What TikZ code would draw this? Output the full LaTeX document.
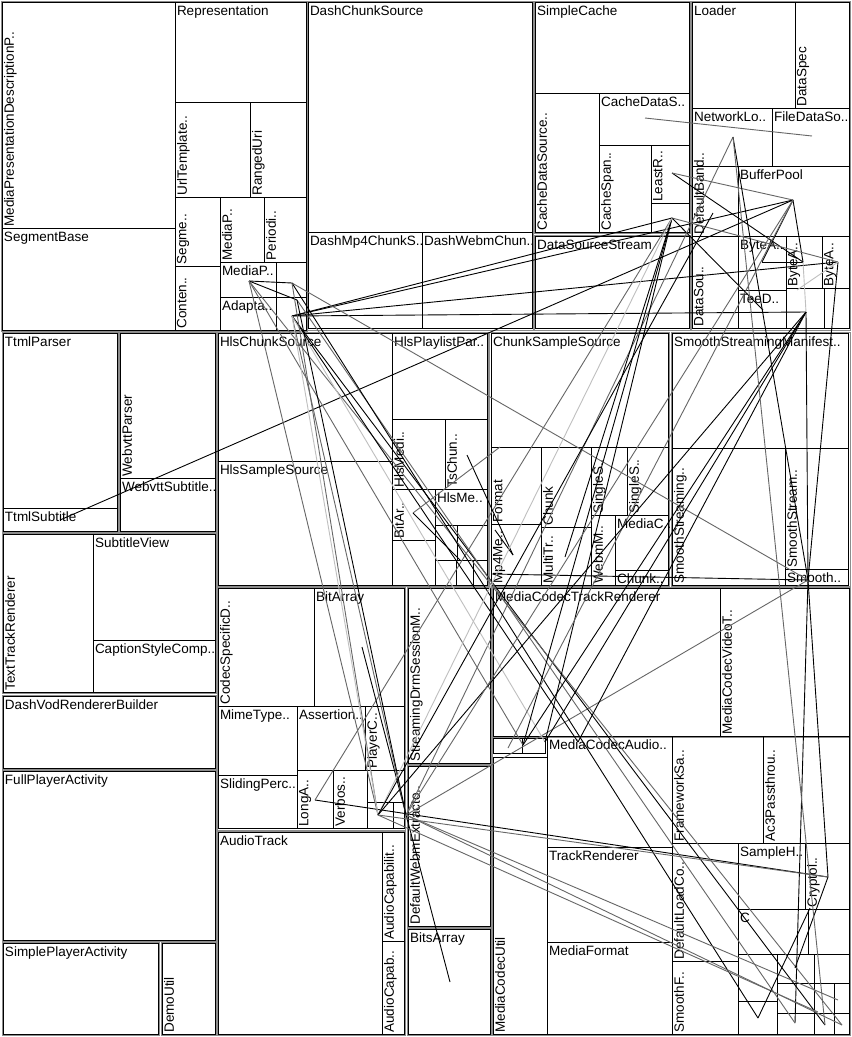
\documentclass[tikz,border=0pt]{standalone}
\usepackage{fontspec}
\setmainfont{Liberation Sans}
\begin{document}
\begin{tikzpicture}[x=1pt,y=-1pt]
\tikzset{
 box/.style={draw=black, line width=0.9pt, inner sep=0pt, outer sep=0pt, anchor=north west},
 lab/.style={inner sep=0pt, outer sep=0pt, font=\fontsize{13.5}{13.5}\selectfont, text=black},
 grp/.style={draw=black!45, line width=0.9pt},
 ln/.style={draw=black, line width=0.9pt},
 lg/.style={draw=black!60, line width=0.9pt},
 ll/.style={draw=black!25, line width=0.9pt},
}
\newcommand\mkbox[5]{\pgfmathsetmacro\bw{#4-#2}\pgfmathsetmacro\bh{#5-#3}%
 \node[box, minimum width=\bw pt, minimum height=\bh pt] (#1) at (#2,#3) {};}
\newcommand\hb[6]{\mkbox{#1}{#2}{#3}{#4}{#5}\node[lab, anchor=north west] (#1t) at ([xshift=2pt,yshift=-4pt]#1.north west) {#6};}
\newcommand\vb[6]{\mkbox{#1}{#2}{#3}{#4}{#5}\node[lab, rotate=90, anchor=north west] (#1t) at ([xshift=2pt,yshift=1.5pt]#1.south west) {#6};}
\newcommand\eb[5]{\mkbox{#1}{#2}{#3}{#4}{#5}}

\fill[white] (0,0) rectangle (852,1037);
\useasboundingbox (0,0) rectangle (852,1037);

% group frames
\draw[grp] (1,1) rectangle (307,331);
\draw[grp] (307,1) rectangle (533,330);
\draw[grp] (534,1) rectangle (690,233);
\draw[grp] (534,235) rectangle (690,330);
\draw[grp] (691,1) rectangle (850,330);
\draw[grp] (2,332) rectangle (118,532);
\draw[grp] (119,332) rectangle (216,532);
\draw[grp] (2,533) rectangle (216,693);
\draw[grp] (2,695) rectangle (216,769);
\draw[grp] (2,770) rectangle (216,941);
\draw[grp] (2,942) rectangle (159,1035);
\draw[grp] (161,942) rectangle (216,1035);
\draw[grp] (217,332) rectangle (488,586);
\draw[grp] (489,332) rectangle (669,586);
\draw[grp] (671,332) rectangle (850,586);
\draw[grp] (217,587) rectangle (405,830);
\draw[grp] (407,587) rectangle (491,764);
\draw[grp] (407,765) rectangle (491,927);
\draw[grp] (407,928) rectangle (491,1035);
\draw[grp] (217,831) rectangle (405,1035);
\draw[grp] (492,587) rectangle (850,737);
\draw[grp] (492,737) rectangle (850,1035);

% group A
\vb{mpd}{2}{2}{175}{228}{MediaPresentationDescriptionP..}
\hb{segbase}{2}{228}{175}{330}{SegmentBase}
\hb{repr}{175}{2}{306}{102}{Representation}
\vb{urlt}{175}{102}{250}{197}{UrlTemplate..}
\vb{ranged}{250}{102}{306}{197}{RangedUri}
\vb{segme}{175}{197}{220}{266}{Segme..}
\vb{conten}{175}{266}{220}{330}{Conten..}
\vb{mediapv}{220}{197}{264}{262}{MediaP..}
\vb{periodi}{264}{197}{306}{262}{Periodi..}
\hb{mediaph}{220}{262}{276}{297}{MediaP..}
\eb{smAa}{276}{262}{306}{297}
\hb{adapta}{220}{297}{276}{330}{Adapta..}
\eb{smAb}{276}{297}{306}{330}
% group B
\hb{dcs}{308}{2}{532}{232}{DashChunkSource}
\hb{dmp}{308}{232}{422}{328}{DashMp4ChunkS..}
\hb{dwc}{422}{232}{532}{328}{DashWebmChun..}
% group C
\hb{sc}{535}{2}{689}{93}{SimpleCache}
\vb{cdsv}{535}{93}{599}{232}{CacheDataSource..}
\hb{cdsh}{599}{93}{689}{145}{CacheDataS..}
\vb{cspan}{599}{145}{651}{232}{CacheSpan..}
\vb{leastr}{651}{145}{689}{203}{LeastR..}
\eb{smC}{651}{203}{689}{232}
\hb{dss}{535}{236}{689}{328}{DataSourceStream}
% group D
\hb{loader}{692}{2}{795}{108}{Loader}
\vb{dspec}{795}{2}{849}{108}{DataSpec}
\hb{netlo}{692}{108}{772}{166}{NetworkLo..}
\hb{filed}{772}{108}{849}{166}{FileDataSo..}
\vb{defb}{692}{166}{738}{236}{DefaultBand..}
\hb{bufp}{738}{166}{849}{236}{BufferPool}
\vb{dsou}{692}{236}{738}{328}{DataSou..}
\hb{byteaa}{738}{236}{786}{290}{ByteA..}
\vb{byteab}{786}{236}{822}{288}{ByteA..}
\vb{byteac}{822}{236}{849}{288}{ByteA..}
\hb{teed}{738}{290}{786}{328}{TeeD..}
\eb{smDa}{786}{288}{824}{328}
\eb{smDb}{824}{288}{849}{328}
% group E, F, left column
\hb{ttmlp}{3}{333}{117}{508}{TtmlParser}
\hb{ttmls}{3}{508}{117}{531}{TtmlSubtitle}
\vb{webvp}{120}{333}{215}{478}{WebvttParser}
\hb{webvs}{120}{478}{215}{531}{WebvttSubtitle..}
\vb{ttr}{3}{534}{93}{692}{TextTrackRenderer}
\hb{subv}{93}{534}{215}{640}{SubtitleView}
\hb{capt}{93}{640}{215}{692}{CaptionStyleComp..}
\hb{dvrb}{3}{696}{215}{768}{DashVodRendererBuilder}
\hb{fpa}{3}{771}{215}{940}{FullPlayerActivity}
\hb{spa}{3}{943}{158}{1034}{SimplePlayerActivity}
\vb{demo}{162}{943}{215}{1034}{DemoUtil}
% group G
\hb{hlscs}{218}{333}{392}{461}{HlsChunkSource}
\hb{hlsss}{218}{461}{392}{585}{HlsSampleSource}
\hb{hlspp}{392}{333}{487}{419}{HlsPlaylistPar..}
\vb{hlsmedi}{392}{419}{445}{489}{HlsMedi..}
\vb{tschun}{445}{419}{487}{489}{TsChun..}
\vb{bitar}{392}{489}{435}{540}{BitAr..}
\hb{hlsme}{435}{489}{487}{525}{HlsMe..}
\eb{smGa}{435}{525}{457}{560}
\eb{smGb}{457}{525}{487}{560}
\eb{smGc}{392}{540}{435}{585}
\eb{smGd}{435}{560}{456}{585}
\eb{smGe}{456}{560}{473}{585}
\eb{smGf}{473}{560}{487}{585}
% group H
\hb{css}{491}{333}{668}{447}{ChunkSampleSource}
\vb{fmt}{491}{447}{541}{524}{Format}
\vb{mpme}{491}{524}{541}{585}{Mp4Me..}
\vb{chunk}{541}{447}{591}{527}{Chunk}
\vb{multitr}{541}{527}{591}{585}{MultiTr..}
\vb{singa}{591}{447}{627}{515}{SingleS..}
\vb{singb}{627}{447}{668}{515}{SingleS..}
\vb{webmm}{591}{515}{615}{585}{WebmM..}
\hb{mediac}{615}{515}{668}{570}{MediaC..}
\hb{chunkd}{615}{570}{668}{585}{Chunk..}
% group I
\hb{ssm}{672}{333}{848}{448}{SmoothStreamingManifest..}
\vb{ssa}{672}{448}{785}{585}{SmoothStreaming..}
\vb{ssb}{785}{448}{848}{569}{SmoothStream..}
\hb{ssc}{785}{569}{848}{585}{Smooth..}
% group J
\vb{csd}{218}{588}{314}{706}{CodecSpecificD..}
\hb{bitarr}{314}{588}{404}{706}{BitArray}
\hb{mime}{218}{706}{297}{775}{MimeType..}
\hb{sliding}{218}{775}{297}{828}{SlidingPerc..}
\hb{assert}{297}{706}{365}{770}{Assertion..}
\vb{playerc}{365}{706}{404}{770}{PlayerC..}
\vb{longa}{297}{770}{333}{828}{LongA..}
\vb{verbos}{333}{770}{367}{828}{Verbos..}
\eb{smJa}{367}{770}{404}{802}
\eb{smJb}{367}{802}{393}{828}
\eb{smJc}{393}{802}{404}{828}
\vb{drm}{408}{588}{490}{763}{StreamingDrmSessionM..}
\vb{dwe}{408}{766}{490}{926}{DefaultWebmExtracto..}
\hb{bitsarr}{408}{929}{490}{1034}{BitsArray}
\hb{audiot}{218}{832}{382}{1034}{AudioTrack}
\vb{audca}{382}{832}{404}{941}{AudioCapabilit..}
\vb{audcb}{382}{941}{404}{1034}{AudioCapab..}
% group K
\hb{mctr}{493}{588}{720}{736}{MediaCodecTrackRenderer}
\vb{mcvt}{720}{588}{849}{736}{MediaCodecVideoT..}
\eb{smKa}{493}{738}{522}{753}
\eb{smKb}{522}{738}{545}{753}
\vb{mcu}{493}{757}{547}{1034}{MediaCodecUtil}
\hb{mca}{547}{736}{672}{847}{MediaCodecAudio..}
\vb{fws}{672}{736}{763}{843}{FrameworkSa..}
\vb{ac3}{763}{736}{849}{843}{Ac3Passthrou..}
\hb{trackr}{547}{847}{672}{942}{TrackRenderer}
\hb{mfmt}{547}{942}{672}{1034}{MediaFormat}
\vb{dlc}{672}{843}{738}{961}{DefaultLoadCo..}
\vb{smoothf}{672}{961}{738}{1034}{SmoothF..}
\hb{sampleh}{738}{843}{805}{909}{SampleH..}
\vb{cryptol}{805}{843}{849}{909}{Cryptol..}
\hb{cbox}{738}{909}{808}{954}{C}
\eb{smKc}{808}{909}{849}{954}
\eb{smKd}{738}{954}{777}{1001}
\eb{smKe}{738}{1001}{777}{1034}
\eb{smKf}{777}{954}{814}{983}
\eb{smKg}{814}{954}{849}{983}
\eb{smKh}{777}{983}{814}{1013}
\eb{smKi}{814}{983}{834}{1013}
\eb{smKj}{834}{983}{849}{1013}
\eb{smKk}{777}{1013}{814}{1034}
\eb{smKl}{814}{1013}{834}{1034}
\eb{smKm}{834}{1013}{849}{1034}

% connector end points
\coordinate (hA) at (292,316);
\coordinate (hB) at (249,281);
\coordinate (hC) at (292,283);
\coordinate (hD) at (297,300);
\coordinate (hE) at (672,218);
\coordinate (hF) at (672,173);
\coordinate (hG) at (793,200);
\coordinate (hH) at (803,262);
\coordinate (hI) at (838,262);
\coordinate (hJ) at (806,312);
\coordinate (hK) at (733,137);
\coordinate (hL) at (762,262);
\coordinate (hM) at (808,580);
\coordinate (hMl) at (492,574);
\coordinate (hN) at (378,815);
\coordinate (hO) at (406,815);
\coordinate (hP) at (315,800);
\coordinate (hQ) at (362,647);
\coordinate (hR) at (828,877);
\coordinate (hSa) at (842,1025);
\coordinate (hSb) at (825,1025);
\coordinate (hSc) at (795,1023);
\coordinate (hSd) at (758,1018);
\coordinate (hSe) at (818,1012);
\coordinate (hSf) at (838,1000);
\coordinate (hT) at (523,745);
\coordinate (hU) at (545,742);
\coordinate (hV) at (508,748);
\coordinate (hVb) at (578,742);
\coordinate (hW) at (60,520);
\coordinate (hX) at (467,455);
\coordinate (hY) at (513,555);
\coordinate (hZ) at (565,557);
\coordinate (hMa) at (495,530);
\coordinate (hCa) at (645,118);
\coordinate (hCb) at (812,136);
\coordinate (hBa) at (450,982);
\coordinate (hTe) at (763,310);
\coordinate (hBy) at (797,290);
\coordinate (hDb) at (713,213);
\coordinate (hCr) at (795,968);
\coordinate (hSh) at (810,908);
\coordinate (hGa) at (413,513);
\coordinate (hGb) at (460,560);
\coordinate (hGc) at (500,447);

% connectors
\draw[ln] (hW) -- (hG);
\draw[ln] (hA) -- (hG);
\draw[ln] (hA) -- (hI);
\draw[ln] (hA) -- (hJ);
\draw[ln] (hA) -- (hE);
\draw[ln] (hB) -- (hC);
\draw[ln] (hB) -- (hD);
\draw[lg] (hC) -- (hM);
\draw[ln] (hF) -- (hH);
\draw[lg] (hF) -- (hG);
\draw[ln] (hG) -- (hL);
\draw[ln] (hL) -- (hH);
\draw[ln] (hG) -- (hH);
\draw[lg] (hE) -- (hI);
\draw[ln] (hE) -- (hTe);
\draw[lg] (hCa) -- (hCb);
\draw[lg] (hK) -- (hO);
\draw[ln] (hK) -- (hM);
\draw[ln] (hJ) -- (hM);
\draw[ln] (hI) -- (hM);
\draw[ln] (hM) -- (hR);
\draw[ln] (hM) -- (hSc);
\draw[lg] (hM) -- (hO);
\draw[ln] (hM) -- (hMl);
\draw[ll] (hI) -- (hBy);
\draw[ln] (hP) -- (hR);
\draw[lg] (hP) -- (hE);
\draw[ln] (hQ) -- (hBa);
\draw[ln] (hX) -- (hY);
\draw[ln] (hMa) -- (hY);
\draw[ln] (hZ) -- (hE);
\draw[ln] (hA) -- (hSb);
\draw[lg] (hB) -- (hSa);
\draw[lg] (hD) -- (hSc);
\draw[ln] (hC) -- (hSd);
\draw[ln] (hA) -- (hVb);
\draw[ll] (hA) -- (hU);
\draw[lg] (hB) -- (hT);
\draw[lg] (hB) -- (hN);
\draw[lg] (hC) -- (hN);
\draw[lg] (hA) -- (hO);
\draw[ln] (hD) -- (hO);
\draw[ll] (hA) -- (hN);
\draw[ln] (hE) -- (hT);
\draw[ln] (hE) -- (hU);
\draw[ln] (hJ) -- (hT);
\draw[ln] (hJ) -- (hU);
\draw[lg] (hG) -- (hV);
\draw[ln] (hJ) -- (hVb);
\draw[ll] (hE) -- (hN);
\draw[ln] (hJ) -- (hN);
\draw[lg] (hG) -- (hO);
\draw[ln] (hDb) -- (hN);
\draw[lg] (hN) -- (hSe);
\draw[lg] (hO) -- (hSa);
\draw[lg] (hN) -- (hR);
\draw[lg] (hO) -- (hSf);
\draw[ln] (hR) -- (hCr);
\draw[ln] (hSd) -- (hSh);
\draw[lg] (hK) -- (hSb);
\draw[ll] (hH) -- (hJ);
\draw[lg] (hGa) -- (hGc);
\draw[ln] (hGa) -- (hGb);
\end{tikzpicture}
\end{document}
